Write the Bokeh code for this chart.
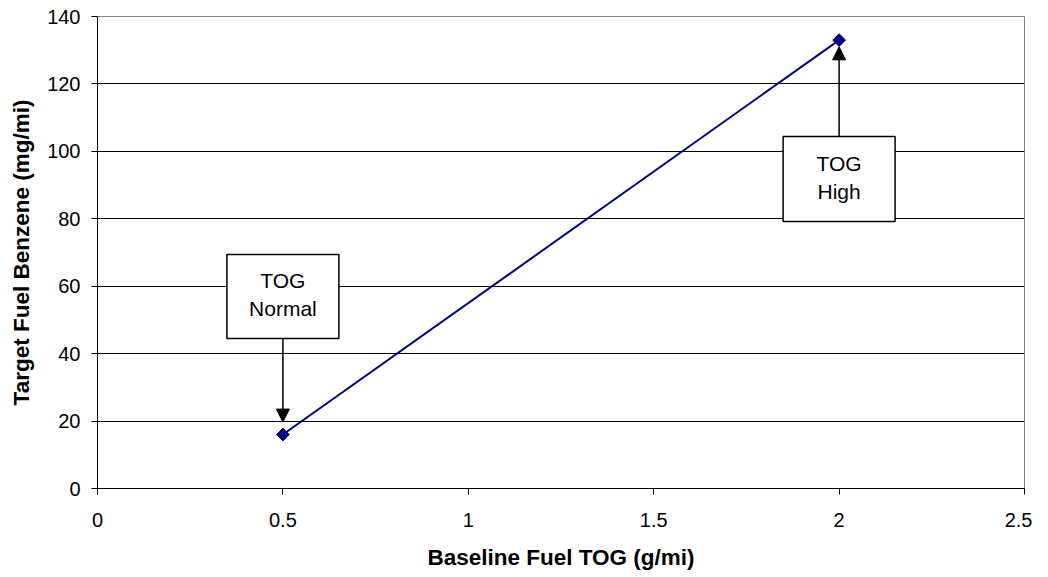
from bokeh.plotting import figure
from bokeh.models import Range1d, FixedTicker, BoxAnnotation, Label, Arrow, NormalHead
from bokeh.embed import file_html
from bokeh.resources import INLINE

# ---- data ----
baseline_tog = [0.5, 2.0]          # g/mi
target_benzene = [16, 133]         # mg/mi

x_ticks = [0, 0.5, 1, 1.5, 2, 2.5]
x_tick_labels = ["0", "0.5", "1", "1.5", "2", "2.5"]
y_ticks = [0, 20, 40, 60, 80, 100, 120, 140]

ann_line1 = ["TOG", "TOG"]
ann_line2 = ["Normal", "High"]
ann_box_bottom = [44.5, 79.2]
ann_box_top = [69.4, 104.4]
ann_arrow_start = [44.5, 104.4]
ann_arrow_end = [19.7, 131.0]
ann_line1_y = [61.7, 96.4]
ann_line2_y = [53.4, 88.0]
ann_box_halfwidth = 0.151

FONT = "Liberation Sans"

p = figure(width=1032, height=577, output_backend="svg", toolbar_location=None,
           x_range=Range1d(0, 2.5), y_range=Range1d(0, 140),
           min_border_left=97, min_border_right=8, min_border_top=16, min_border_bottom=89)

p.background_fill_color = "white"
p.border_fill_color = "white"
p.outline_line_color = "#808080"
p.outline_line_width = 1

p.xgrid.grid_line_color = None
p.ygrid.grid_line_color = "black"
p.ygrid.grid_line_width = 1

p.xaxis.ticker = FixedTicker(ticks=x_ticks)
p.xaxis.major_label_overrides = {t: l for t, l in zip(x_ticks, x_tick_labels)}
p.yaxis.ticker = FixedTicker(ticks=y_ticks)

for ax in (p.xaxis[0], p.yaxis[0]):
    ax.axis_line_color = "black"
    ax.axis_line_width = 1
    ax.major_tick_line_color = "black"
    ax.major_tick_in = 0
    ax.major_tick_out = 6
    ax.minor_tick_line_color = None
    ax.major_label_text_font = FONT
    ax.major_label_text_font_size = "20px"
    ax.major_label_text_color = "black"
    ax.axis_label_text_font = FONT
    ax.axis_label_text_font_size = "22.5px"
    ax.axis_label_text_font_style = "bold"
    ax.axis_label_text_color = "black"

p.xaxis.axis_label = "Baseline Fuel TOG (g/mi)"
p.yaxis.axis_label = "Target Fuel Benzene (mg/mi)"
p.xaxis.major_label_standoff = 18
p.yaxis.major_label_standoff = 11
p.xaxis.axis_label_standoff = 15
p.yaxis.axis_label_standoff = 10

p.line(baseline_tog, target_benzene, line_color="#000080", line_width=2)
p.scatter(baseline_tog, target_benzene, marker="square", angle=0.785398, size=9,
          fill_color="#000080", line_color="#000080")

for i in range(len(baseline_tog)):
    cx = baseline_tog[i]
    p.add_layout(Arrow(end=NormalHead(size=13, fill_color="black", line_color="black"),
                       x_start=cx, y_start=ann_arrow_start[i],
                       x_end=cx, y_end=ann_arrow_end[i],
                       line_color="black", line_width=1.5))
    p.add_layout(BoxAnnotation(left=cx - ann_box_halfwidth, right=cx + ann_box_halfwidth,
                               bottom=ann_box_bottom[i], top=ann_box_top[i],
                               fill_color="white", fill_alpha=1.0,
                               line_color="black", line_width=1.5, line_alpha=1.0))
    p.add_layout(Label(x=cx, y=ann_line1_y[i], text=ann_line1[i], text_align="center",
                       text_baseline="middle", text_font=FONT, text_font_size="21px",
                       text_color="black"))
    p.add_layout(Label(x=cx, y=ann_line2_y[i], text=ann_line2[i], text_align="center",
                       text_baseline="middle", text_font=FONT, text_font_size="21px",
                       text_color="black"))

open("out.html", "w").write(file_html(p, INLINE))
